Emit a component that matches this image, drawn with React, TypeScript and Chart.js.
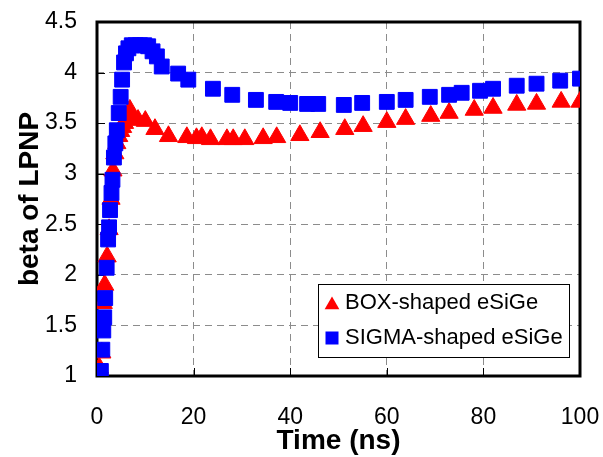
import React, { useEffect, useRef } from 'react';
import { Chart, registerables } from 'chart.js';

Chart.register(...registerables);

// ---- Data ----
const seriesNames = ['BOX-shaped eSiGe', 'SIGMA-shaped eSiGe'];

const boxTime = [0, 0.5, 1.0, 1.3, 1.6, 2.1, 2.5, 2.9, 3.3, 3.7, 4.1, 4.5, 4.9, 5.3, 5.7, 6.1, 6.8, 7.5, 8.5, 10.0, 12.0, 14.8, 18.6, 20.6, 21.7, 23.5, 26.9, 28.2, 30.6, 34.4, 37.2, 42.0, 46.2, 51.3, 55.1, 60.0, 63.9, 69.1, 72.9, 78.1, 82.0, 86.9, 91.0, 96.1, 100];
const boxBeta = [1.03, 1.08, 1.23, 1.72, 1.90, 2.18, 2.45, 2.75, 3.03, 3.20, 3.30, 3.37, 3.42, 3.46, 3.50, 3.55, 3.63, 3.55, 3.53, 3.52, 3.44, 3.37, 3.36, 3.35, 3.36, 3.34, 3.34, 3.34, 3.34, 3.35, 3.36, 3.38, 3.41, 3.44, 3.47, 3.51, 3.54, 3.57, 3.60, 3.63, 3.65, 3.68, 3.69, 3.71, 3.71];

const sigmaTime = [0, 0.8, 1.1, 1.3, 1.5, 1.7, 2.0, 2.3, 2.5, 2.7, 3.0, 3.2, 3.5, 3.8, 4.1, 4.5, 4.9, 5.2, 5.6, 6.0, 6.5, 7.2, 8.0, 8.9, 9.8, 10.6, 11.5, 12.4, 13.4, 16.8, 18.9, 24, 28, 32.9, 37.1, 40, 43.5, 45.8, 51.1, 54.9, 60, 63.9, 68.9, 72.9, 75.5, 79.3, 82, 86.9, 91, 95.9, 100];
const sigmaBeta = [1.04, 1.05, 1.26, 1.45, 1.58, 1.77, 2.07, 2.35, 2.47, 2.64, 2.81, 2.94, 3.16, 3.30, 3.43, 3.60, 3.76, 3.93, 4.10, 4.19, 4.24, 4.27, 4.27, 4.27, 4.27, 4.26, 4.21, 4.16, 4.06, 3.99, 3.93, 3.84, 3.78, 3.73, 3.71, 3.70, 3.69, 3.69, 3.68, 3.70, 3.71, 3.73, 3.76, 3.78, 3.80, 3.82, 3.84, 3.87, 3.89, 3.92, 3.94];

const xMin = 0;
const xMax = 100;
const xStep = 20;
const yMin = 1;
const yMax = 4.5;
const yStep = 0.5;

const RED = '#ff0000';
const BLUE = '#0000ff';
const FONT = '"Liberation Sans", Arial, Helvetica, sans-serif';

const toPoints = (xs: number[], ys: number[]) => xs.map((x, i) => ({ x, y: ys[i] }));

function drawTriangle(ctx: CanvasRenderingContext2D, x: number, y: number, r: number) {
  const a = (2 * Math.PI) / 3;
  ctx.beginPath();
  ctx.moveTo(x, y - r);
  ctx.lineTo(x + Math.sin(a) * r, y - Math.cos(a) * r);
  ctx.lineTo(x + Math.sin(2 * a) * r, y - Math.cos(2 * a) * r);
  ctx.closePath();
  ctx.fill();
}

const zeroPad = (scale: any) => {
  scale.paddingLeft = 0;
  scale.paddingRight = 0;
  scale.paddingTop = 0;
  scale.paddingBottom = 0;
};

const framePlugin = {
  id: 'frameTicks',
  beforeDatasetsDraw(chart: any) {
    const { ctx, chartArea: ca, scales } = chart;
    ctx.save();
    ctx.strokeStyle = '#000';
    ctx.lineWidth = 1;
    ctx.beginPath();
    scales.x.ticks.forEach((t: any) => {
      const px = Math.round(scales.x.getPixelForValue(t.value)) + 0.5;
      ctx.moveTo(px, ca.bottom);
      ctx.lineTo(px, ca.bottom - 8);
    });
    scales.y.ticks.forEach((t: any) => {
      const py = Math.round(scales.y.getPixelForValue(t.value)) + 0.5;
      ctx.moveTo(ca.left, py);
      ctx.lineTo(ca.left + 8, py);
    });
    ctx.stroke();
    ctx.lineWidth = 3;
    ctx.strokeRect(ca.left, ca.top, ca.right - ca.left, ca.bottom - ca.top);
    ctx.restore();
  },
  afterDraw(chart: any) {
    const { ctx, chartArea: ca } = chart;
    const w = 251;
    const h = 73;
    const x0 = ca.right - 11 - w;
    const y0 = ca.bottom - 19 - h;
    ctx.save();
    ctx.fillStyle = '#ffffff';
    ctx.fillRect(x0, y0, w, h);
    ctx.strokeStyle = '#000';
    ctx.lineWidth = 1;
    ctx.strokeRect(x0 + 0.5, y0 + 0.5, w, h);
    const rows = [y0 + 19, y0 + 54];
    const mx = x0 + 14;
    ctx.fillStyle = RED;
    drawTriangle(ctx, mx, rows[0] + 2, 8.5);
    ctx.fillStyle = BLUE;
    ctx.fillRect(mx - 6.5, rows[1] - 6.5, 13, 13);
    ctx.fillStyle = '#000';
    ctx.font = `22px ${FONT}`;
    ctx.textBaseline = 'middle';
    ctx.textAlign = 'left';
    ctx.fillText(seriesNames[0], x0 + 27, rows[0]);
    ctx.fillText(seriesNames[1], x0 + 27, rows[1]);
    ctx.restore();
  },
};

export default function App() {
  const canvasRef = useRef<HTMLCanvasElement | null>(null);

  useEffect(() => {
    if (!canvasRef.current) return;
    const chart = new Chart(canvasRef.current, {
      type: 'scatter',
      data: {
        datasets: [
          {
            label: seriesNames[0],
            data: toPoints(boxTime, boxBeta),
            pointStyle: 'triangle',
            pointRadius: 10.5,
            pointBackgroundColor: RED,
            pointBorderColor: RED,
            pointBorderWidth: 1,
            backgroundColor: RED,
            borderColor: RED,
            showLine: false,
            order: 2,
          },
          {
            label: seriesNames[1],
            data: toPoints(sigmaTime, sigmaBeta),
            pointStyle: 'rect',
            pointRadius: 10.5,
            pointBackgroundColor: BLUE,
            pointBorderColor: BLUE,
            pointBorderWidth: 1,
            backgroundColor: BLUE,
            borderColor: BLUE,
            showLine: false,
            order: 1,
          },
        ],
      },
      options: {
        responsive: false,
        animation: false,
        events: [],
        layout: { padding: { left: 0, right: 23, top: 22, bottom: 0 } },
        plugins: {
          legend: { display: false },
          tooltip: { enabled: false },
        },
        scales: {
          x: {
            type: 'linear',
            min: xMin,
            max: xMax,
            ticks: {
              stepSize: xStep,
              color: '#000',
              font: { size: 23, family: FONT },
              padding: 28,
              maxRotation: 0,
            },
            grid: { color: '#8c8c8c', lineWidth: 1, drawTicks: false },
            border: { display: false, dash: [7, 5] },
            title: {
              display: true,
              text: 'Time (ns)',
              color: '#000',
              font: { size: 28, weight: 'bold', family: FONT, lineHeight: 1.1 },
              padding: { top: 0, bottom: 0 },
            },
            afterFit(scale: any) {
              scale.height = 81;
              zeroPad(scale);
            },
          },
          y: {
            type: 'linear',
            min: yMin,
            max: yMax,
            ticks: {
              stepSize: yStep,
              color: '#000',
              font: { size: 23, family: FONT },
              padding: 20,
              callback: (v: any) => String(Number(v)),
            },
            grid: { color: '#8c8c8c', lineWidth: 1, drawTicks: false },
            border: { display: false, dash: [7, 5] },
            title: {
              display: true,
              text: 'beta of LPNP',
              color: '#000',
              font: { size: 28, weight: 'bold', family: FONT },
              padding: { top: 13, bottom: 0 },
            },
            afterFit(scale: any) {
              scale.width = 97;
              zeroPad(scale);
            },
          },
        },
      },
      plugins: [framePlugin],
    } as any);
    return () => chart.destroy();
  }, []);

  return (
    <div style={{ position: 'absolute', left: 0, top: 0, width: 603, height: 457, background: '#fff' }}>
      <canvas ref={canvasRef} width={603} height={457} style={{ display: 'block' }} />
    </div>
  );
}
